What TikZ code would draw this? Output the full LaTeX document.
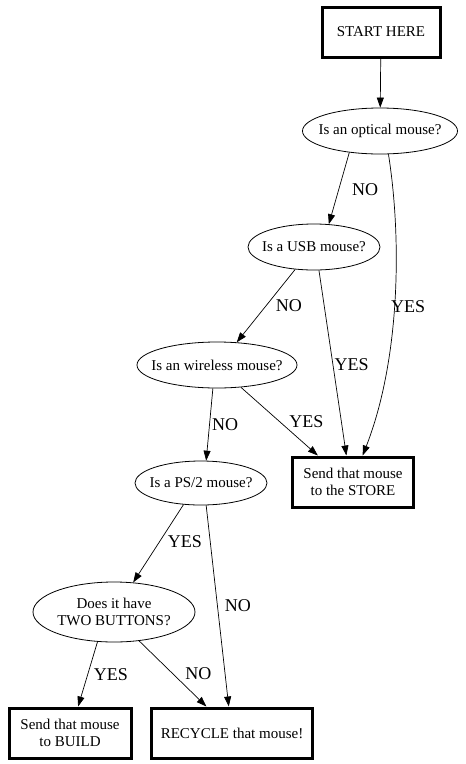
\documentclass[tikz,border=0pt]{standalone}
\usepackage{fontspec}
\setmainfont{Liberation Serif}
\usetikzlibrary{
  arrows.meta,
  shapes.geometric
}

\begin{document}
\begin{tikzpicture}[
  x=1pt, y=-1pt,
  ask/.style={draw,ellipse,line width=0.8pt,inner sep=0pt},
  asktext/.style={inner sep=0pt,align=center,font=\fontsize{15}{17}\selectfont},
  act/.style={draw,rectangle,line width=3pt,inner sep=0pt,align=center,
              minimum height=50pt,font=\fontsize{15}{17}\selectfont},
  edge/.style={-{Triangle[length=10pt,width=7pt]},line width=0.7pt},
  lbl/.style={font=\fontsize{18}{20}\selectfont,inner sep=0pt},
]
\useasboundingbox (0,0) rectangle (466,764);

% questions
\node[ask, minimum width=155pt, minimum height=46pt,
      label={[asktext]center:Is an optical mouse?}]  (optical)  at (380,131) {};
\node[ask, minimum width=132pt, minimum height=46pt,
      label={[asktext]center:Is a USB mouse?}]       (usb)      at (314,247) {};
\node[ask, minimum width=160pt, minimum height=46pt,
      label={[asktext]center:Is an wireless mouse?}] (wireless) at (217,365) {};
\node[ask, minimum width=132pt, minimum height=44pt,
      label={[asktext]center:Is a PS/2 mouse?}]      (ps2)      at (201,483) {};
\node[ask, minimum width=162pt, minimum height=60pt,
      label={[asktext]center:{Does it have\\TWO BUTTONS?}}] (buttons) at (114,612) {};

% actions
\node[act, minimum width=118pt] (start)   at (381,32)  {START HERE};
\node[act, minimum width=121pt] (store)   at (353,482) {Send that mouse\\to the STORE};
\node[act, minimum width=122pt] (build)   at (70,733)  {Send that mouse\\to BUILD};
\node[act, minimum width=161pt] (recycle) at (232,733) {RECYCLE that mouse!};

% connectors
\draw[edge] (start) -- (optical);
\draw[edge] (optical.215) -- (usb.57)
  node[lbl,pos=.5,xshift=26pt,yshift=-1pt]{NO};
\draw[edge] (optical.290) .. controls (402,240) and (400,360) .. (store.70)
  node[lbl,pos=.5,xshift=13.5pt,yshift=-5pt]{YES};
\draw[edge] (usb.230) -- (wireless.49)
  node[lbl,pos=.5,xshift=23pt]{NO};
\draw[edge] (usb.282) -- (store.104)
  node[lbl,pos=.5,xshift=19pt,yshift=-1.5pt]{YES};
\draw[edge] (wireless.260) -- (ps2.77)
  node[lbl,pos=.5,xshift=15.5pt]{NO};
\draw[edge] (wireless.317) -- (store.143)
  node[lbl,pos=.5,xshift=27pt]{YES};
\draw[edge] (ps2.231) -- (buttons.57)
  node[lbl,pos=.5,xshift=26.5pt,yshift=2pt]{YES};
\draw[edge] (ps2.283) -- (recycle.97)
  node[lbl,pos=.5,xshift=20.5pt]{NO};
\draw[edge] (buttons.241) -- (build.73)
  node[lbl,pos=.5,xshift=23pt]{YES};
\draw[edge] (buttons.311) -- (recycle.134)
  node[lbl,pos=.5,xshift=25.5pt]{NO};
\end{tikzpicture}
\end{document}
